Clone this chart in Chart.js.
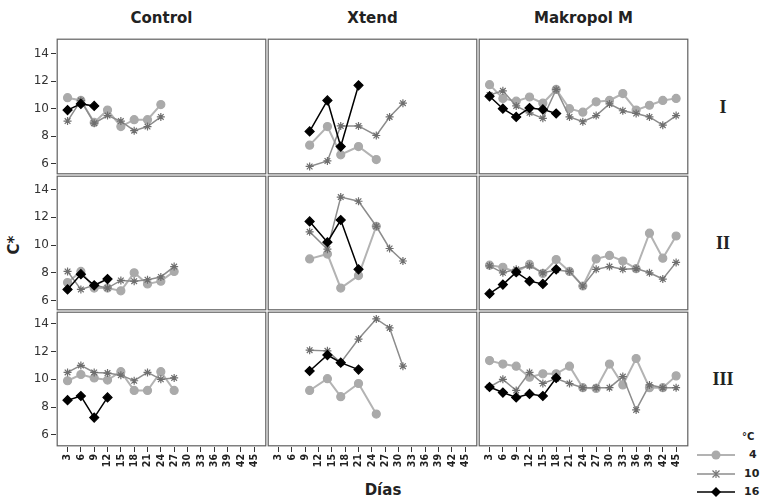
<!DOCTYPE html>
<html>
<head>
<meta charset="utf-8">
<script src="https://cdn.jsdelivr.net/npm/chart.js@4.4.1/dist/chart.umd.min.js"></script>
<style>
body { margin: 0; background: #fff; width: 761px; height: 500px; position: relative; overflow: hidden; font-family: "DejaVu Sans", sans-serif; color: #222; }
canvas { position: absolute; }
.lbl { position: absolute; white-space: nowrap; font-weight: bold; }
.title { font-size: 15px; top: 9px; transform: translateX(-50%); }
.row { font-family: "Liberation Serif", serif; font-size: 18px; transform: translate(-50%, -50%); }
.leg { font-size: 11px; }
</style>
</head>
<body>
<div class="lbl" style="left:6px;top:245px;font-size:15px;transform:translate(-50%,-50%) rotate(-90deg);left:14px;">C*</div>
<div class="lbl" style="left:383px;top:481px;font-size:15px;transform:translateX(-50%);">Días</div>
<div class="lbl leg" style="left:742px;top:431px;font-size:10px;">°C</div>
<svg style="position:absolute;left:694px;top:446px" width="48" height="54">
  <line x1="3" y1="9" x2="41" y2="9" stroke="#b3b3b3" stroke-width="2"/>
  <circle cx="22" cy="9" r="4.5" fill="#aaa"/>
  <line x1="3" y1="28" x2="41" y2="28" stroke="#8c8c8c" stroke-width="1.5"/>
  <path d="M18.5 24.5 L25.5 31.5 M25.5 24.5 L18.5 31.5 M22 24 L22 32" stroke="#777" stroke-width="1.2"/>
  <line x1="3" y1="46" x2="41" y2="46" stroke="#000" stroke-width="1.5"/>
  <path d="M22 41 L27 46 L22 51 L17 46 Z" fill="#000"/>
</svg>
<div class="lbl leg" style="left:749px;top:448px;">4</div>
<div class="lbl leg" style="left:744px;top:467px;">10</div>
<div class="lbl leg" style="left:744px;top:485px;">16</div>

<script>
// axis ticks
const tickDays = [3, 6, 9, 12, 15, 18, 21, 24, 27, 30, 33, 36, 39, 42, 45];
const yTicks = [6, 8, 10, 12, 14];

const treatments = ["Control", "Xtend", "Makropol M"];
const blocks = ["I", "II", "III"];
const temps = ["4", "10", "16"];

// sampling days per treatment
const controlDays = [3, 6, 9, 12, 15, 18, 21, 24, 27];
const xtendDays = [10, 14, 17, 21, 25, 28, 31];
const makropolDays = [3, 6, 9, 12, 15, 18, 21, 24, 27, 30, 33, 36, 39, 42, 45];

// Control
const control4I = [10.8, 10.6, 9.0, 9.9, 8.7, 9.2, 9.2, 10.3];
const control10I = [9.1, 10.6, 8.95, 9.5, 9.1, 8.4, 8.7, 9.4];
const control16I = [9.9, 10.35, 10.2];
const control4II = [7.3, 8.1, 6.9, 6.9, 6.7, 8.0, 7.2, 7.4, 8.1];
const control10II = [8.1, 6.8, 7.1, 6.9, 7.45, 7.4, 7.5, 7.7, 8.45];
const control16II = [6.8, 7.9, 7.1, 7.55];
const control4III = [9.9, 10.35, 10.1, 9.95, 10.55, 9.2, 9.2, 10.55, 9.2];
const control10III = [10.5, 11.0, 10.5, 10.45, 10.3, 9.9, 10.5, 10.0, 10.1];
const control16III = [8.5, 8.8, 7.25, 8.7];

// Xtend
const xtend4I = [7.35, 8.7, 6.65, 7.25, 6.3];
const xtend10I = [5.8, 6.2, 8.75, 8.75, 8.05, 9.4, 10.4];
const xtend16I = [8.35, 10.6, 7.25, 11.7];
const xtend4II = [9.0, 9.35, 6.9, 7.8, 11.35];
const xtend10II = [10.95, 9.7, 13.45, 13.15, 11.35, 9.75, 8.85];
const xtend16II = [11.7, 10.2, 11.8, 8.25];
const xtend4III = [9.2, 10.05, 8.75, 9.7, 7.5];
const xtend10III = [12.1, 12.05, 11.2, 12.9, 14.35, 13.7, 10.95];
const xtend16III = [10.6, 11.75, 11.2, 10.7];

// Makropol M
const makropol4I = [11.75, 10.75, 10.55, 10.85, 10.4, 11.4, 10.0, 9.75, 10.5, 10.6, 11.1, 9.9, 10.25, 10.6, 10.75];
const makropol10I = [11.0, 11.3, 10.2, 9.7, 9.3, 11.4, 9.4, 9.05, 9.5, 10.35, 9.85, 9.65, 9.4, 8.8, 9.5];
const makropol16I = [10.9, 10.0, 9.4, 10.05, 9.95, 9.65];
const makropol4II = [8.55, 8.4, 8.05, 8.6, 7.95, 8.95, 8.1, 7.05, 9.0, 9.25, 8.85, 8.3, 10.85, 9.05, 10.65];
const makropol10II = [8.5, 8.0, 8.25, 8.5, 8.0, 8.2, 8.1, 7.05, 8.25, 8.45, 8.25, 8.3, 8.0, 7.55, 8.75];
const makropol16II = [6.5, 7.15, 8.05, 7.4, 7.2, 8.25];
const makropol4III = [11.35, 11.1, 10.95, 10.15, 10.4, 10.4, 10.95, 9.4, 9.35, 11.1, 9.6, 11.5, 9.4, 9.4, 10.25];
const makropol10III = [9.45, 10.0, 9.2, 10.5, 9.7, 10.05, 9.7, 9.4, 9.4, 9.4, 10.2, 7.8, 9.6, 9.4, 9.4];
const makropol16III = [9.45, 9.05, 8.7, 8.95, 8.8, 10.1];

const panels = [
	[
		{ days: controlDays, series: [control4I, control10I, control16I] },
		{ days: xtendDays, series: [xtend4I, xtend10I, xtend16I] },
		{ days: makropolDays, series: [makropol4I, makropol10I, makropol16I] },
	],
	[
		{ days: controlDays, series: [control4II, control10II, control16II] },
		{ days: xtendDays, series: [xtend4II, xtend10II, xtend16II] },
		{ days: makropolDays, series: [makropol4II, makropol10II, makropol16II] },
	],
	[
		{ days: controlDays, series: [control4III, control10III, control16III] },
		{ days: xtendDays, series: [xtend4III, xtend10III, xtend16III] },
		{ days: makropolDays, series: [makropol4III, makropol10III, makropol16III] },
	],
];

// layout of the grid
const colLeft = [56, 267, 478];
const panelW = 211;
const rowTop = [38, 175, 311];
const rowH = [137, 136, 136];
const yRange = [[5.18, 15.14], [5.25, 15.04], [5.13, 14.92]];
const yAxisW = 40;
const xAxisH = 30;

const styles = [
	{ line: "#b3b3b3", width: 2, point: "circle", radius: 4, fill: "#aaa", border: "#aaa", order: 3 },
	{ line: "#8c8c8c", width: 1.5, point: "star", radius: 4, fill: "#777", border: "#6e6e6e", order: 2 },
	{ line: "#000", width: 1.5, point: "rectRot", radius: 4.5, fill: "#000", border: "#000", order: 1 },
];

// panel box, inset a bit so neighbours show a thin double line
const frame = {
	id: "frame",
	afterDraw(chart) {
		const { ctx, chartArea: a } = chart;
		ctx.save();
		ctx.strokeStyle = "#606060";
		ctx.lineWidth = 1.2;
		ctx.strokeRect(a.left + 1.2, a.top + 1.2, a.right - a.left - 2.4, a.bottom - a.top - 2.4);
		ctx.restore();
	},
};

// titles and row labels
treatments.forEach((t, c) => {
	const d = document.createElement("div");
	d.className = "lbl title";
	d.style.left = colLeft[c] + panelW / 2 + "px";
	d.textContent = t;
	document.body.appendChild(d);
});
blocks.forEach((b, r) => {
	const d = document.createElement("div");
	d.className = "lbl row";
	d.style.left = "723px";
	d.style.top = rowTop[r] + rowH[r] / 2 + "px";
	d.textContent = b;
	document.body.appendChild(d);
});

function makePanel(r, c) {
	const first = c === 0;
	const last = r === 2;
	const p = panels[r][c];
	const cv = document.createElement("canvas");
	const w = panelW + (first ? yAxisW : 0);
	const h = rowH[r] + (last ? xAxisH : 0);
	cv.width = w;
	cv.height = h;
	cv.style.left = colLeft[c] - (first ? yAxisW : 0) + "px";
	cv.style.top = rowTop[r] + "px";
	cv.style.width = w + "px";
	cv.style.height = h + "px";
	document.body.appendChild(cv);

	const datasets = p.series.map((vals, i) => {
		const s = styles[i];
		return {
			label: temps[i],
			data: vals.map((v, k) => ({ x: p.days[k], y: v })),
			borderColor: s.line,
			borderWidth: s.width,
			pointStyle: s.point,
			pointRadius: s.radius,
			pointBackgroundColor: s.fill,
			pointBorderColor: s.border,
			pointBorderWidth: 1.2,
			tension: 0,
			order: s.order,
		};
	});

	new Chart(cv, {
		type: "line",
		data: { datasets },
		options: {
			responsive: false,
			animation: false,
			layout: { padding: 0, autoPadding: false },
			plugins: { legend: { display: false }, tooltip: { enabled: false } },
			scales: {
				x: {
					type: "linear",
					min: 0.4,
					max: 47.9,
					display: last,
					afterBuildTicks: (s) => { s.ticks = tickDays.map((v) => ({ value: v })); },
					afterFit: (s) => {
						s.height = last ? xAxisH : 0;
						s.paddingLeft = 0;
						s.paddingRight = 0;
						s.paddingTop = 0;
						s.paddingBottom = 0;
					},
					border: { display: false },
					grid: { drawOnChartArea: false, tickLength: 5, color: "#333" },
					ticks: {
						autoSkip: false,
						minRotation: 90,
						maxRotation: 90,
						padding: 2,
						color: "#222",
						font: { family: "DejaVu Sans Condensed", size: 10.5, weight: "bold" },
					},
				},
				y: {
					min: yRange[r][0],
					max: yRange[r][1],
					display: first,
					afterBuildTicks: (s) => { s.ticks = yTicks.map((v) => ({ value: v })); },
					afterFit: (s) => {
						s.width = first ? yAxisW : 0;
						s.paddingTop = 0;
						s.paddingBottom = 0;
						s.paddingLeft = 0;
						s.paddingRight = 0;
					},
					border: { display: false },
					grid: { drawOnChartArea: false, tickLength: 5, color: "#333" },
					ticks: {
						padding: 2,
						color: "#333",
						font: { family: "DejaVu Sans", size: 12 },
					},
				},
			},
		},
		plugins: [frame],
	});
}

for (let r = 0; r < 3; r++) {
	for (let c = 0; c < 3; c++) {
		makePanel(r, c);
	}
}
</script>
</body>
</html>
